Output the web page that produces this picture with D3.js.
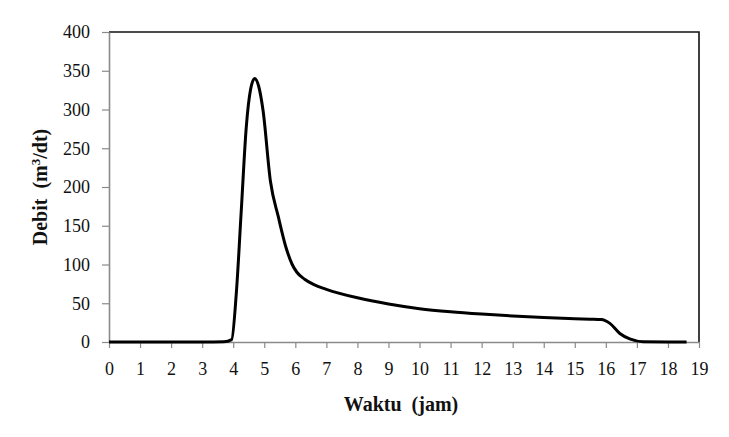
<!DOCTYPE html>
<html>
<head>
<meta charset="utf-8">
<script src="https://cdnjs.cloudflare.com/ajax/libs/d3/7.8.5/d3.min.js"></script>
<style>
    body { margin: 0; background: #fff; }
    #chart { width: 729px; height: 437px; }
    text { font-family: "Liberation Serif", "Times New Roman", serif; }
</style>
</head>
<body>
<div id="chart"></div>
<script>
// hydrograph: time (jam) and debit (m3/dt)
const waktu = [0, 1, 2, 3, 3.7, 3.95, 4.1, 4.26, 4.42, 4.56, 4.69, 4.82, 4.96, 5.2, 5.45, 5.7, 5.9, 6.05, 6.3, 6.6, 7, 8, 9, 10, 11, 12, 13, 14, 15, 15.5, 15.85, 16.13, 16.45, 16.77, 17.2, 18, 18.6];
const debit = [0, 0, 0, 0, 0.3, 3, 63, 170, 277, 326, 340, 330, 299, 207, 162, 122, 100, 90, 81, 74, 68, 57, 49, 43, 39, 36, 33.5, 31.5, 30, 29.5, 29, 24, 11, 4, 0.3, 0, 0];
const xTicks = d3.range(0, 20);
const yTicks = [0, 50, 100, 150, 200, 250, 300, 350, 400];

const data = waktu.map(function(t, i){ return {t: t, q: debit[i]}; });

const width = 729;
const height = 437;
const margin = {top: 32, left: 109, right: 30, bottom: 95};

const svg = d3.select("#chart")
    .append("svg")
    .attr("width", width)
    .attr("height", height);

const xScale = d3.scaleLinear()
    .domain([0, 19])
    .range([margin.left, width - margin.right]);

const yScale = d3.scaleLinear()
    .domain([0, 400])
    .range([height - margin.bottom, margin.top]);

/*
FRAME (top + right)
*/
svg.append("path")
    .attr("d", `M${margin.left},${margin.top}H${width - margin.right}V${height - margin.bottom}`)
    .attr("fill", "none")
    .attr("stroke", "#111")
    .attr("stroke-width", 1.6);

/*
AXES
*/
const xAxis = svg.append("g")
    .attr("transform", `translate(0, ${height - margin.bottom})`)
    .call(d3.axisBottom(xScale).tickValues(xTicks).tickSize(6).tickPadding(14).tickSizeOuter(0));

const yAxis = svg.append("g")
    .attr("transform", `translate(${margin.left}, 0)`)
    .call(d3.axisLeft(yScale).tickValues(yTicks).tickSize(7).tickPadding(12).tickSizeOuter(0));

[xAxis, yAxis].forEach(function(ax){
    ax.select(".domain").attr("stroke", "#8a8a8a").attr("stroke-width", 1.6);
    ax.selectAll(".tick line").attr("stroke", "#8a8a8a").attr("stroke-width", 1.2);
    ax.selectAll("text")
        .style("font-family", "'Liberation Serif', 'Times New Roman', serif")
        .style("font-size", "18px")
        .attr("fill", "#111");
});

/*
LINE
*/
const line = d3.line()
    .x(function(d){ return xScale(d.t); })
    .y(function(d){ return yScale(d.q); })
    .curve(d3.curveMonotoneX);

svg.append("path")
    .datum(data)
    .attr("d", line)
    .attr("fill", "none")
    .attr("stroke", "#000")
    .attr("stroke-width", 3)
    .attr("stroke-linejoin", "round");

/*
LABELS
*/
svg.append("text")
    .attr("x", 401)
    .attr("y", 411)
    .attr("text-anchor", "middle")
    .attr("font-weight", "bold")
    .attr("font-size", "20px")
    .attr("fill", "#111")
    .style("white-space", "pre")
    .text("Waktu  (jam)");

const yLabel = svg.append("text")
    .attr("transform", `translate(47, ${(margin.top + height - margin.bottom) / 2}) rotate(-90)`)
    .attr("text-anchor", "middle")
    .attr("font-weight", "bold")
    .attr("font-size", "20px")
    .attr("fill", "#111")
    .style("white-space", "pre");
yLabel.append("tspan").text("Debit  (m");
yLabel.append("tspan").attr("font-size", "13px").attr("dy", "-7").text("3");
yLabel.append("tspan").attr("dy", "7").text("/dt)");
</script>
</body>
</html>
